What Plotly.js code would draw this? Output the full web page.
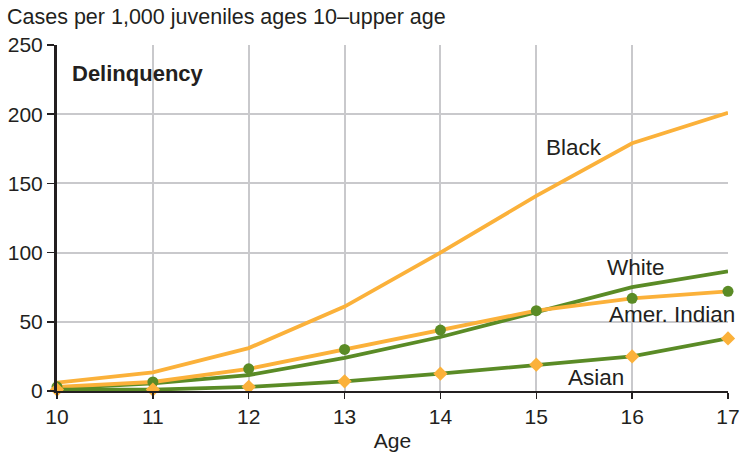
<!DOCTYPE html>
<html>
<head>
<meta charset="utf-8">
<script src="https://cdn.plot.ly/plotly-3.0.1.min.js"></script>
<style>html,body{margin:0;padding:0;background:#fff;}#chart{width:742px;height:455px;}</style>
</head>
<body>
<div id="chart"></div>
<script>
const ages = [10, 11, 12, 13, 14, 15, 16, 17];
const black = [6, 13.5, 31, 61, 100, 141, 179, 201];
const white = [2, 5.5, 11.5, 24, 39, 57, 75, 86.5];
const amerIndian = [3, 6.5, 16, 30, 44, 58, 67, 72];
const asian = [1, 1, 3, 7, 12.5, 19, 25, 38];
const yTicks = [0, 50, 100, 150, 200, 250];

const ORANGE = '#fbb13a';
const GREEN = '#5a8b26';
const TXT = '#231f20';
const FONT = 'Liberation Sans, Arial, Helvetica, sans-serif';

const traces = [
  {x: ages, y: black, mode: 'lines', line: {color: ORANGE, width: 3.8}, name: 'Black', cliponaxis: false},
  {x: ages, y: white, mode: 'lines', line: {color: GREEN, width: 3.8}, name: 'White', cliponaxis: false},
  {x: ages, y: amerIndian, mode: 'lines+markers', line: {color: ORANGE, width: 3.8},
   marker: {color: GREEN, size: 11, symbol: 'circle'}, name: 'Amer. Indian', cliponaxis: false},
  {x: ages, y: asian, mode: 'lines+markers', line: {color: GREEN, width: 3.8},
   marker: {color: ORANGE, size: 11, symbol: 'diamond'}, name: 'Asian', cliponaxis: false}
];

const layout = {
  width: 742, height: 455,
  margin: {l: 57, r: 14, t: 45, b: 64},
  paper_bgcolor: '#fff', plot_bgcolor: '#fff',
  showlegend: false,
  font: {family: FONT, size: 21, color: TXT},
  xaxis: {
    range: [10, 17], tickvals: ages, ticktext: ages.map(String),
    showgrid: true, gridcolor: '#c9c9cc', gridwidth: 2,
    showline: true, linecolor: TXT, linewidth: 2,
    ticks: 'outside', ticklen: 6, tickcolor: TXT, tickwidth: 1.5,
    zeroline: false, tickfont: {size: 21, color: TXT},
    title: {text: 'Age', font: {size: 21, color: TXT}, standoff: 6}
  },
  yaxis: {
    range: [0, 250], tickvals: yTicks, ticktext: yTicks.map(String),
    showgrid: true, gridcolor: '#c9c9cc', gridwidth: 2,
    showline: true, linecolor: TXT, linewidth: 3,
    ticks: 'outside', ticklen: 7, tickcolor: TXT, tickwidth: 1.5,
    zeroline: false, tickfont: {size: 21, color: TXT}
  },
  annotations: [
    {text: 'Cases per 1,000 juveniles ages 10\u2013upper age', xref: 'paper', yref: 'paper',
     x: -52/671, y: 1, xanchor: 'left', yanchor: 'middle', yshift: 28, showarrow: false,
     font: {size: 21.5, color: TXT}},
    {text: '<b>Delinquency</b>', xref: 'paper', yref: 'paper', x: 13/671, y: 1, yshift: -28,
     xanchor: 'left', yanchor: 'middle', showarrow: false, font: {size: 22, color: TXT}},
    {text: 'Black', x: 15.39, y: 176, xanchor: 'center', yanchor: 'middle', showarrow: false, font: {size: 22.5, color: TXT}},
    {text: 'White', x: 16.04, y: 89, xanchor: 'center', yanchor: 'middle', showarrow: false, font: {size: 22.5, color: TXT}},
    {text: 'Amer. Indian', x: 16.42, y: 55, xanchor: 'center', yanchor: 'middle', showarrow: false, font: {size: 22.5, color: TXT}},
    {text: 'Asian', x: 15.62, y: 9.4, xanchor: 'center', yanchor: 'middle', showarrow: false, font: {size: 22.5, color: TXT}}
  ]
};

Plotly.newPlot('chart', traces, layout, {displayModeBar: false, staticPlot: true});
</script>
</body>
</html>
